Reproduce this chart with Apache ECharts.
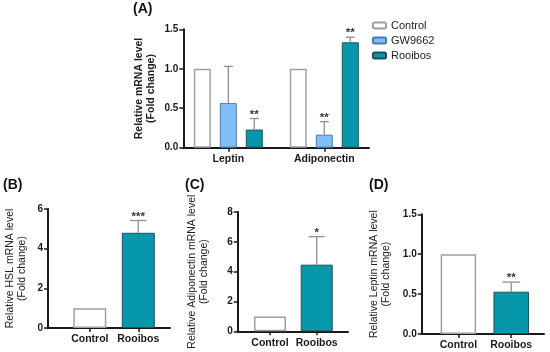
<!DOCTYPE html>
<html><head><meta charset="utf-8">
<script src="https://cdn.jsdelivr.net/npm/echarts@6/dist/echarts.min.js"></script>
<style>html,body{margin:0;padding:0;background:#fff}#c{width:550px;height:352px}</style>
</head><body><div id="c"></div>
<script>
// ---------- DATA ----------
const groupNames = ['Control', 'GW9662', 'Rooibos'];
const catsA = ['Leptin', 'Adiponectin'];
const controlA = [1.0, 1.0];
const gwA = [0.565, 0.165];
const rooibosA = [0.23, 1.335];
const controlAErr = [0, 0];
const gwAErr = [0.465, 0.165];
const rooibosAErr = [0.14, 0.065];
const controlAStars = ['', ''];
const gwAStars = ['', '**'];
const rooibosAStars = ['**', '**'];
const yTicksA = [0, 0.5, 1.0, 1.5];

const catsTwo = ['Control', 'Rooibos'];
const hslMeans = [1.0, 4.8];
const hslErr = [0, 0.62];
const hslStars = ['', '***'];
const yTicksB = [0, 2, 4, 6];

const adipoMeans = [1.0, 4.47];
const adipoErr = [0, 1.88];
const adipoStars = ['', '*'];
const yTicksC = [0, 2, 4, 6, 8];

const leptinMeans = [1.0, 0.53];
const leptinErr = [0, 0.12];
const leptinStars = ['', '**'];
const yTicksD = [0, 0.5, 1.0, 1.5];

// ---------- STYLE ----------
const FONT = 'Liberation Sans, Arial, sans-serif';
const styles = {
  Control: { color: '#ffffff', borderColor: '#a0a0a0', borderWidth: 1.5 },
  GW9662: { color: '#80bff6', borderColor: '#4a7dac', borderWidth: 1 },
  Rooibos: { color: '#0797aa', borderColor: '#22505a', borderWidth: 1 }
};
const layouts = [
  { grid: { left: 183.3, right: 181, top: 29.3, bottom: 204.3 }, xMin: 0.531, xMax: 2.466, barW: 17, nameGap: 26, nameBold: 'bold' },
  { grid: { left: 48, right: 380, top: 209, bottom: 24 }, xMin: 0.138, xMax: 2.654, barW: 33, nameGap: 20, nameBold: 'normal' },
  { grid: { left: 237.7, right: 202, top: 212, bottom: 20.7 }, xMin: 0.308, xMax: 2.67, barW: 32, nameGap: 28, nameBold: 'normal' },
  { grid: { left: 421.7, right: 6, top: 214.3, bottom: 18 }, xMin: 0.305, xMax: 2.621, barW: 35.5, nameGap: 30, nameBold: 'normal' }
];
const yNames = [
  'Relative mRNA level\n(Fold change)',
  'Relative HSL mRNA level\n(Fold change)',
  'Relative Adiponectin mRNA level\n(Fold change)',
  'Relative Leptin mRNA level\n(Fold change)'
];
const yTicks = [yTicksA, yTicksB, yTicksC, yTicksD];
const xCats = [catsA, catsTwo, catsTwo, catsTwo];
const yDecimals = [1, 0, 0, 1];

const grids = [], xAxes = [], yAxes = [];
layouts.forEach((L, i) => {
  grids.push(L.grid);
  const cats = xCats[i];
  xAxes.push({
    type: 'value', gridIndex: i, min: L.xMin, max: L.xMax,
    splitLine: { show: false },
    axisLine: { show: true, lineStyle: { color: '#1a1a1a', width: 2 } },
    axisTick: { show: true, customValues: [1, 2], length: 4, lineStyle: { color: '#1a1a1a', width: 1.5 } },
    axisLabel: { customValues: [1, 2], formatter: v => cats[Math.round(v) - 1] || '', margin: 6,
      fontFamily: FONT, fontWeight: 'bold', fontSize: 10.5, color: '#1a1a1a' }
  });
  const t = yTicks[i];
  yAxes.push({
    type: 'value', gridIndex: i, min: t[0], max: t[t.length - 1], interval: t[1] - t[0],
    splitLine: { show: false },
    axisLine: { show: true, lineStyle: { color: '#1a1a1a', width: 2 } },
    axisTick: { show: true, length: 4, lineStyle: { color: '#1a1a1a', width: 1.5 } },
    axisLabel: { formatter: v => v.toFixed(yDecimals[i]), margin: 5, fontFamily: FONT, fontWeight: 'bold', fontSize: 10, color: '#1a1a1a' },
    name: yNames[i], nameLocation: 'middle', nameGap: L.nameGap,
    nameTextStyle: { fontFamily: FONT, fontWeight: L.nameBold, fontSize: 10.5, lineHeight: 12, color: '#222' }
  });
});

function errSeries(gridIdx, xs, means, errs, stars, offsetPx, capW) {
  const data = xs.map((x, k) => [x, means[k], errs[k]]);
  return {
    type: 'custom', xAxisIndex: gridIdx, yAxisIndex: gridIdx, z: 5, silent: true,
    data: data,
    renderItem: (params, api) => {
      const x = api.value(0), m = api.value(1), e = api.value(2);
      const p0 = api.coord([x, m]);
      const p1 = api.coord([x, m + e]);
      const cx = p0[0] + offsetPx;
      const children = [];
      if (e > 0) {
        children.push({ type: 'line', shape: { x1: cx, y1: p0[1], x2: cx, y2: p1[1] }, style: { stroke: '#8f8f8f', lineWidth: 1.3 } });
        children.push({ type: 'line', shape: { x1: cx - capW / 2, y1: p1[1], x2: cx + capW / 2, y2: p1[1] }, style: { stroke: '#8f8f8f', lineWidth: 1.3 } });
      }
      const s = stars[params.dataIndex];
      if (s) {
        children.push({ type: 'text', x: cx, y: p1[1] + 2, style: { text: s, fontFamily: FONT, fontSize: 11.5, fontWeight: 'bold', fill: '#333', align: 'center', verticalAlign: 'bottom' } });
      }
      return { type: 'group', children };
    }
  };
}

const series = [];
// Panel A grouped bars
const A_vals = [controlA, gwA, rooibosA];
const A_errs = [controlAErr, gwAErr, rooibosAErr];
const A_stars = [controlAStars, gwAStars, rooibosAStars];
const gapA = 9;
groupNames.forEach((g, gi) => {
  series.push({
    name: g, type: 'bar', xAxisIndex: 0, yAxisIndex: 0,
    barWidth: layouts[0].barW, barGap: (gapA / layouts[0].barW * 100) + '%',
    itemStyle: styles[g],
    data: A_vals[gi].map((v, k) => [k + 1, v])
  });
});
groupNames.forEach((g, gi) => {
  series.push(errSeries(0, [1, 2], A_vals[gi], A_errs[gi], A_stars[gi], (gi - 1) * (layouts[0].barW + gapA), 9));
});

// Panels B-D
const single = [[hslMeans, hslErr, hslStars], [adipoMeans, adipoErr, adipoStars], [leptinMeans, leptinErr, leptinStars]];
single.forEach((d, j) => {
  const gi = j + 1;
  series.push({
    name: 'panel' + gi, type: 'bar', xAxisIndex: gi, yAxisIndex: gi,
    barWidth: layouts[gi].barW,
    data: d[0].map((v, k) => ({ value: [k + 1, v], itemStyle: styles[catsTwo[k]] }))
  });
  series.push(errSeries(gi, [1, 2], d[0], d[1], d[2], 0, layouts[gi].barW / 2));
});

const chart = echarts.init(document.getElementById('c'), null, { renderer: 'canvas' });
chart.setOption({
  animation: false,
  backgroundColor: '#ffffff',
  grid: grids, xAxis: xAxes, yAxis: yAxes, series: series,
  legend: {
    data: groupNames, orient: 'vertical', left: 372, top: 20, itemWidth: 13, itemHeight: 6, itemGap: 4, padding: 0,
    selectedMode: false,
    textStyle: { fontFamily: FONT, fontSize: 11, color: '#222' }
  },
  graphic: [
    { type: 'text', left: 133, top: 2, style: { text: '(A)', fontFamily: FONT, fontWeight: 'bold', fontSize: 14, fill: '#111' } },
    { type: 'text', left: 3, top: 178, style: { text: '(B)', fontFamily: FONT, fontWeight: 'bold', fontSize: 14, fill: '#111' } },
    { type: 'text', left: 185, top: 178, style: { text: '(C)', fontFamily: FONT, fontWeight: 'bold', fontSize: 14, fill: '#111' } },
    { type: 'text', left: 369, top: 178, style: { text: '(D)', fontFamily: FONT, fontWeight: 'bold', fontSize: 14, fill: '#111' } }
  ]
});
</script></body></html>
